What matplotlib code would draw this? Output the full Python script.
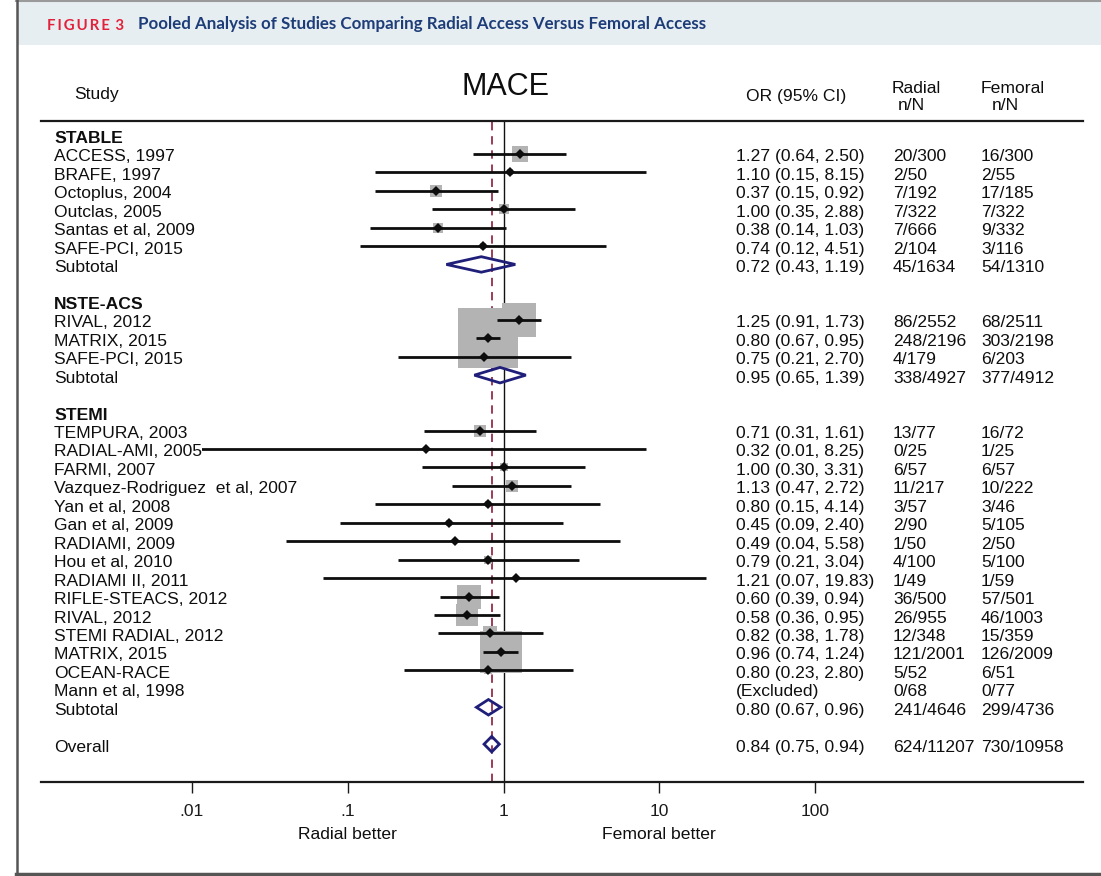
import matplotlib
matplotlib.use("Agg")
import matplotlib.pyplot as plt
import matplotlib.transforms as mtransforms
from matplotlib.patches import Polygon, Rectangle
from matplotlib.lines import Line2D
from matplotlib.ticker import NullLocator

plt.rcParams['font.family'] = ['Liberation Sans', 'DejaVu Sans']

# ---------------- data ----------------
group_names = ["STABLE", "NSTE-ACS", "STEMI"]

stable_studies = ["ACCESS, 1997", "BRAFE, 1997", "Octoplus, 2004", "Outclas, 2005",
                  "Santas et al, 2009", "SAFE-PCI, 2015"]
stable_or = [1.27, 1.10, 0.37, 1.00, 0.38, 0.74]
stable_lo = [0.64, 0.15, 0.15, 0.35, 0.14, 0.12]
stable_hi = [2.50, 8.15, 0.92, 2.88, 1.03, 4.51]
stable_radial = ["20/300", "2/50", "7/192", "7/322", "7/666", "2/104"]
stable_femoral = ["16/300", "2/55", "17/185", "7/322", "9/332", "3/116"]
stable_weight = [2.67, 0.31, 1.50, 1.11, 1.24, 0.38]

nste_studies = ["RIVAL, 2012", "MATRIX, 2015", "SAFE-PCI, 2015"]
nste_or = [1.25, 0.80, 0.75]
nste_lo = [0.91, 0.67, 0.21]
nste_hi = [1.73, 0.95, 2.70]
nste_radial = ["86/2552", "248/2196", "4/179"]
nste_femoral = ["68/2511", "303/2198", "6/203"]
nste_weight = [11.98, 40.6, 0.76]

stemi_studies = ["TEMPURA, 2003", "RADIAL-AMI, 2005", "FARMI, 2007",
                 "Vazquez-Rodriguez  et al, 2007", "Yan et al, 2008", "Gan et al, 2009",
                 "RADIAMI, 2009", "Hou et al, 2010", "RADIAMI II, 2011", "RIFLE-STEACS, 2012",
                 "RIVAL, 2012", "STEMI RADIAL, 2012", "MATRIX, 2015", "OCEAN-RACE",
                 "Mann et al, 1998"]
stemi_or = [0.71, 0.32, 1.00, 1.13, 0.80, 0.45, 0.49, 0.79, 1.21, 0.60, 0.58, 0.82, 0.96, 0.80, None]
stemi_lo = [0.31, 0.01, 0.30, 0.47, 0.15, 0.09, 0.04, 0.21, 0.07, 0.39, 0.36, 0.38, 0.74, 0.23, None]
stemi_hi = [1.61, 8.25, 3.31, 2.72, 4.14, 2.40, 5.58, 3.04, 19.83, 0.94, 0.95, 1.78, 1.24, 2.80, None]
stemi_radial = ["13/77", "0/25", "6/57", "11/217", "3/57", "2/90", "1/50", "4/100", "1/49",
                "36/500", "26/955", "12/348", "121/2001", "5/52", "0/68"]
stemi_femoral = ["16/72", "1/25", "6/57", "10/222", "3/46", "5/105", "2/50", "5/100", "1/59",
                 "57/501", "46/1003", "15/359", "126/2009", "6/51", "0/77"]
stemi_weight = [1.82, 0.11, 0.86, 1.60, 0.45, 0.46, 0.20, 0.69, 0.15, 6.40, 5.25, 2.07, 18.58, 0.79, 0.0]

subtotal_or = [0.72, 0.95, 0.80]
subtotal_lo = [0.43, 0.65, 0.67]
subtotal_hi = [1.19, 1.39, 0.96]
subtotal_radial = ["45/1634", "338/4927", "241/4646"]
subtotal_femoral = ["54/1310", "377/4912", "299/4736"]

overall_or, overall_lo, overall_hi = 0.84, 0.75, 0.94
overall_radial, overall_femoral = "624/11207", "730/10958"

tick_values = [0.01, 0.1, 1, 10, 100]
tick_labels = [".01", ".1", "1", "10", "100"]

# ---------------- layout ----------------
W, H, DPI = 1101, 876, 100
FS = 12.6

def fx(x):
    return x / W

def fy(y):
    return 1 - y / H

groups = [
    (group_names[0], stable_studies, stable_or, stable_lo, stable_hi, stable_radial, stable_femoral, stable_weight),
    (group_names[1], nste_studies, nste_or, nste_lo, nste_hi, nste_radial, nste_femoral, nste_weight),
    (group_names[2], stemi_studies, stemi_or, stemi_lo, stemi_hi, stemi_radial, stemi_femoral, stemi_weight),
]

fig = plt.figure(figsize=(W / DPI, H / DPI), dpi=DPI)
fig.patch.set_facecolor('white')

# frame and heading band
fig.patches.append(Rectangle((fx(17), fy(45)), 1 - fx(17), fy(2) - fy(45),
                             transform=fig.transFigure, facecolor='#e6eef1', edgecolor='none', zorder=0))
fig.lines.append(Line2D([fx(16), 1], [fy(1), fy(1)], transform=fig.transFigure, color='#9a9a9a', lw=1.5))
fig.lines.append(Line2D([fx(16.5), fx(16.5)], [0, 1], transform=fig.transFigure, color='#555555', lw=1.8))
fig.lines.append(Line2D([fx(16), 1], [fy(873.5), fy(873.5)], transform=fig.transFigure, color='#555555', lw=2.5))

fig.text(fx(47), fy(29.5), "F\u2009I\u2009G\u2009U\u2009R\u2009E\u2009 3", color='#e3203a', fontsize=10.8,
         fontweight='bold', family=['Lato', 'DejaVu Sans'], va='baseline', ha='left')
fig.text(fx(138), fy(29.5), "Pooled Analysis of Studies Comparing Radial Access Versus Femoral Access",
         color='#1d3c78', fontsize=12.2, fontweight='bold', family=['Lato', 'DejaVu Sans'],
         va='baseline', ha='left')

# plotting axes
ax = fig.add_axes([fx(41), fy(782), fx(1083) - fx(41), fy(120.7) - fy(782)])
ax.patch.set_alpha(0)
ax.set_xscale('log')
ax.set_xlim(10 ** -2.9667, 10 ** 3.717)
ax.set_ylim(35.05, -0.791)
ax.set_yticks([])
ax.set_xticks(tick_values)
ax.set_xticklabels(tick_labels)
ax.xaxis.set_minor_locator(NullLocator())
ax.tick_params(axis='x', direction='out', length=8, width=1.0, pad=7.5, labelsize=FS,
               colors='#1a1a1a')
for side in ('left', 'right'):
    ax.spines[side].set_visible(False)
for side in ('top', 'bottom'):
    ax.spines[side].set_linewidth(1.6)
    ax.spines[side].set_color('#1a1a1a')

ax.axvline(1, color='#111111', lw=1.0, zorder=1)
ax.axvline(overall_or, color='#8b1c3c', lw=1.2, ls=(0, (5, 3.5)), zorder=1)

row_trans = mtransforms.blended_transform_factory(fig.transFigure, ax.transData) + \
    mtransforms.ScaledTranslation(0, -7.5 / DPI, fig.dpi_scale_trans)

X_NAME, X_OR, X_RAD, X_FEM = fx(54), fx(736), fx(893), fx(981)
TXT = '#0e0e0e'
DIAMOND = '#1f1f7a'


def put_row(r, name, ortxt, rad, fem, bold=False, hide=False):
    kw = dict(transform=row_trans, fontsize=FS, color=TXT, va='baseline', ha='left', zorder=6)
    t = fig.text(X_NAME, r, name, fontweight='bold' if bold else 'normal', **kw)
    if hide:
        t.set_bbox(dict(facecolor='white', edgecolor='none', pad=0))
    if ortxt is not None:
        fig.text(X_OR, r, ortxt, **kw)
        fig.text(X_RAD, r, rad, **kw)
        fig.text(X_FEM, r, fem, **kw)


def diamond(r, o, lo, hi):
    ax.add_patch(Polygon([(lo, r), (o, r - 0.42), (hi, r), (o, r + 0.42)], closed=True,
                         fill=False, edgecolor=DIAMOND, lw=2.0, joinstyle='miter', zorder=3))


r = 0
for gi, (gname, names, ors, los, his, rads, fems, wts) in enumerate(groups):
    put_row(r, gname, None, None, None, bold=True)
    r += 1
    for name, o, lo, hi, rad, fem, w in zip(names, ors, los, his, rads, fems, wts):
        if o is None:
            put_row(r, name, "(Excluded)", rad, fem)
        else:
            if w > 0:
                side_px = 9.57 * w ** 0.5
                ax.scatter([o], [r], marker='s', s=(side_px * 72 / DPI) ** 2, c='#b3b3b3',
                           linewidths=0, zorder=2)
            ax.plot([lo, hi], [r, r], color='#0d0d0d', lw=2.0, solid_capstyle='butt', zorder=3)
            ax.plot([o], [r], marker='D', ms=5.6, color='#0d0d0d', mew=0, zorder=4)
            put_row(r, name, f"{o:.2f} ({lo:.2f}, {hi:.2f})", rad, fem, hide=True)
        r += 1
    diamond(r, subtotal_or[gi], subtotal_lo[gi], subtotal_hi[gi])
    put_row(r, "Subtotal", f"{subtotal_or[gi]:.2f} ({subtotal_lo[gi]:.2f}, {subtotal_hi[gi]:.2f})",
            subtotal_radial[gi], subtotal_femoral[gi])
    r += 2

diamond(r, overall_or, overall_lo, overall_hi)
put_row(r, "Overall", f"{overall_or:.2f} ({overall_lo:.2f}, {overall_hi:.2f})",
        overall_radial, overall_femoral)

# column headers
hk = dict(fontsize=FS, color=TXT, va='baseline', ha='left')
fig.text(fx(74), fy(99.5), "Study", **hk)
fig.text(fx(505), fy(95), "MACE", fontsize=22, color=TXT, va='baseline', ha='center')
fig.text(fx(746), fy(101), "OR (95% CI)", **hk)
fig.text(fx(892), fy(93.2), "Radial", **hk)
fig.text(fx(898), fy(109.5), "n/N", **hk)
fig.text(fx(981), fy(93.2), "Femoral", **hk)
fig.text(fx(992), fy(109.5), "n/N", **hk)

# axis direction labels
lab_trans = mtransforms.blended_transform_factory(ax.transData, fig.transFigure)
fig.text(0.1, fy(839), "Radial better", transform=lab_trans, fontsize=FS, color=TXT,
         ha='center', va='baseline')
fig.text(10, fy(839), "Femoral better", transform=lab_trans, fontsize=FS, color=TXT,
         ha='center', va='baseline')

fig.savefig("out.png", dpi=DPI, facecolor='white')
